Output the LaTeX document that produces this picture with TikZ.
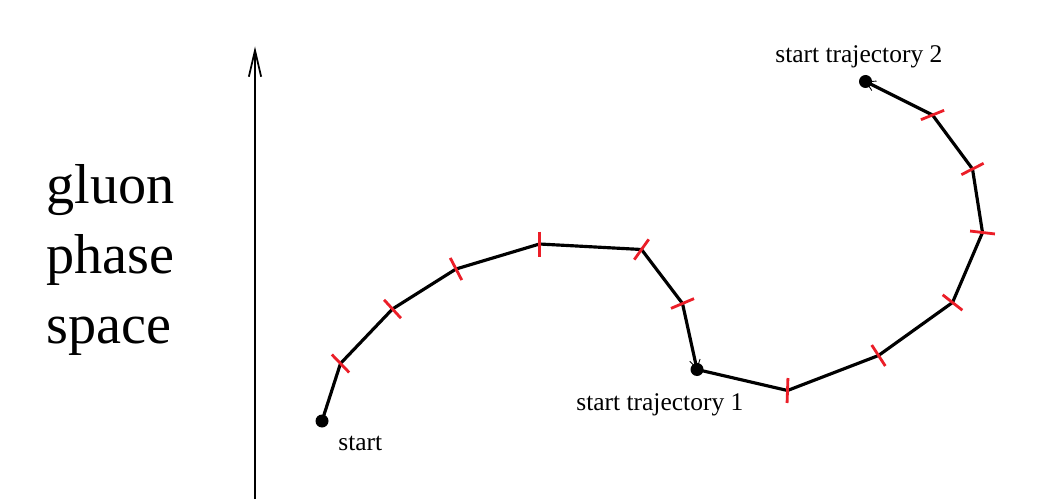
\documentclass[tikz,border=0pt]{standalone}
\usepackage{fontspec}
\setmainfont{Liberation Serif}
\usepackage{xcolor}
\usetikzlibrary{arrows.meta}

\definecolor{tickred}{RGB}{235,30,40}

\begin{document}
\begin{tikzpicture}[
    trajline/.style={line width=1.8pt, line join=round},
    tickmark/.style={line width=1.6pt, draw=tickred},
    dot/.style={circle, fill, inner sep=0pt, minimum size=0.26cm},
    lbl/.style={anchor=base west, inner sep=0pt, font=\fontsize{14.5}{17}\selectfont},
    smalltip/.style={-{Straight Barb[length=5pt, width=6pt, line width=0.5pt]}}
  ]
  \useasboundingbox (0,0) rectangle (21.04,9.98);

  % vertical axis
  \coordinate (axb) at (5.10,0);
  \coordinate (axt) at (5.10,9.05);
  \draw[line width=1.7pt, -{Straight Barb[length=15pt, width=7pt, line width=1pt]}] (axb) -- (axt);
  \node[anchor=west, inner sep=0pt, align=left, font=\fontsize{32}{39.7}\selectfont] (axlabel) at (0.92,4.78) {gluon\\phase\\space};

  % first trajectory
  \coordinate (st) at (6.44,1.56);
  \coordinate (p1) at (6.81,2.71);
  \coordinate (p2) at (7.85,3.80);
  \coordinate (p3) at (9.12,4.60);
  \coordinate (p4) at (10.79,5.10);
  \coordinate (p5) at (12.83,4.99);
  \coordinate (p6) at (13.65,3.91);
  \coordinate (t1) at (13.94,2.59);

  % second trajectory
  \coordinate (q1) at (15.75,2.17);
  \coordinate (q2) at (17.57,2.87);
  \coordinate (q3) at (19.05,3.93);
  \coordinate (q4) at (19.65,5.33);
  \coordinate (q5) at (19.45,6.60);
  \coordinate (q6) at (18.65,7.68);
  \coordinate (t2) at (17.31,8.35);

  \draw[trajline, smalltip] (st) -- (p1) -- (p2) -- (p3) -- (p4) -- (p5) -- (p6) -- (t1);
  \draw[trajline, smalltip] (t1) -- (q1) -- (q2) -- (q3) -- (q4) -- (q5) -- (q6) -- (t2);

  % red marks at the steps
  \foreach \pt/\ang in {p1/-46, p2/-47.5, p3/-62.5, p4/90, p5/54.5, p6/23,
                        q1/88, q2/-57, q3/-38, q4/-6.7, q5/27, q6/22}
    \draw[tickmark] (\pt) ++(\ang:0.25) -- ++(\ang:-0.5);

  \node[dot] (stdot) at (st) {};
  \node[dot] (t1dot) at (t1) {};
  \node[dot] (t2dot) at (t2) {};

  \node[lbl] (stlabel) at (6.76,0.98) {start};
  \node[lbl] (t1label) at (11.52,1.78) {start trajectory 1};
  \node[lbl] (t2label) at (15.50,8.73) {start trajectory 2};
\end{tikzpicture}
\end{document}
